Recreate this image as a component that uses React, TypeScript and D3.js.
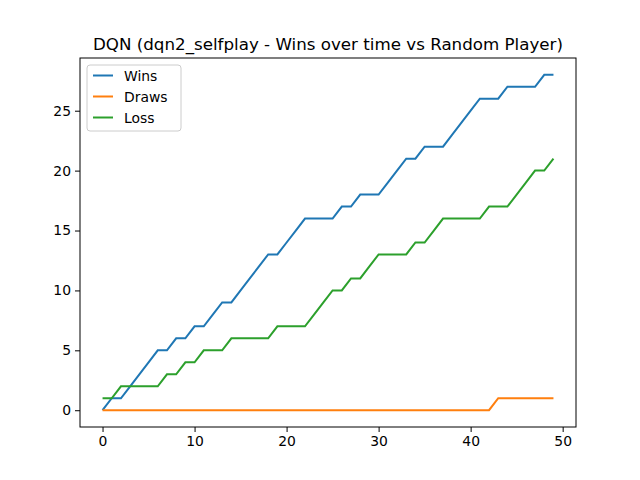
import * as d3 from "d3";
import React, { useEffect, useRef } from "react";

const wins = [0, 1, 1, 2, 3, 4, 5, 5, 6, 6, 7, 7, 8, 9, 9, 10, 11, 12, 13, 13, 14, 15, 16, 16, 16, 16, 17, 17, 18, 18, 18, 19, 20, 21, 21, 22, 22, 22, 23, 24, 25, 26, 26, 26, 27, 27, 27, 27, 28, 28];
const draws = [0, 0, 0, 0, 0, 0, 0, 0, 0, 0, 0, 0, 0, 0, 0, 0, 0, 0, 0, 0, 0, 0, 0, 0, 0, 0, 0, 0, 0, 0, 0, 0, 0, 0, 0, 0, 0, 0, 0, 0, 0, 0, 0, 1, 1, 1, 1, 1, 1, 1];
const loss = [1, 1, 2, 2, 2, 2, 2, 3, 3, 4, 4, 5, 5, 5, 6, 6, 6, 6, 6, 7, 7, 7, 7, 8, 9, 10, 10, 11, 11, 12, 13, 13, 13, 13, 14, 14, 15, 16, 16, 16, 16, 16, 17, 17, 17, 18, 19, 20, 20, 21];
const seriesNames = ["Wins", "Draws", "Loss"];
const colors = ["#1f77b4", "#ff7f0e", "#2ca02c"];
const xTicks = [0, 10, 20, 30, 40, 50];
const yTicks = [0, 5, 10, 15, 20, 25];

const App: React.FC = () => {
  const ref = useRef<SVGSVGElement>(null);

  useEffect(() => {
    if (!ref.current) return;
    const svg = d3.select(ref.current);
    svg.selectAll("*").remove();

    const left = 80, right = 576, top = 58, bottom = 427;
    const x = d3.scaleLinear().domain([-2.45, 51.45]).range([left, right]);
    const y = d3.scaleLinear().domain([-1.4, 29.4]).range([bottom, top]);
    const font = "DejaVu Sans, sans-serif";

    svg.append("rect").attr("width", 640).attr("height", 480).attr("fill", "white");

    const all = [wins, draws, loss];
    const line = d3.line<number>().x((_, i) => x(i)).y((d) => y(d));
    all.forEach((s, i) => {
      svg.append("path").datum(s).attr("d", line).attr("fill", "none")
        .attr("stroke", colors[i]).attr("stroke-width", 2);
    });

    // frame
    svg.append("rect").attr("x", left).attr("y", top).attr("width", right - left)
      .attr("height", bottom - top).attr("fill", "none").attr("stroke", "black").attr("stroke-width", 1);

    const xAxis = svg.append("g").attr("transform", `translate(0,${bottom})`)
      .call(d3.axisBottom(x).tickValues(xTicks).tickSize(5).tickPadding(4));
    const yAxis = svg.append("g").attr("transform", `translate(${left},0)`)
      .call(d3.axisLeft(y).tickValues(yTicks).tickSize(5).tickPadding(4));
    [xAxis, yAxis].forEach((g) => {
      g.select(".domain").remove();
      g.selectAll("text").attr("font-family", font).attr("font-size", 13.9).attr("fill", "black");
      g.selectAll("line").attr("stroke-width", 1);
    });

    svg.append("text").attr("x", (left + right) / 2).attr("y", 50).attr("text-anchor", "middle")
      .attr("font-family", font).attr("font-size", 16.7)
      .text("DQN (dqn2_selfplay - Wins over time vs Random Player)");

    // legend
    const lg = svg.append("g").attr("transform", `translate(87,65)`);
    lg.append("rect").attr("width", 94).attr("height", 66).attr("rx", 3)
      .attr("fill", "white").attr("fill-opacity", 0.8).attr("stroke", "#cccccc");
    seriesNames.forEach((n, i) => {
      const yy = 10.5 + i * 21;
      lg.append("line").attr("x1", 6).attr("x2", 26).attr("y1", yy).attr("y2", yy)
        .attr("stroke", colors[i]).attr("stroke-width", 2);
      lg.append("text").attr("x", 37).attr("y", yy + 5).attr("font-family", font)
        .attr("font-size", 13.9).text(n);
    });
  }, []);

  return <svg ref={ref} width={640} height={480} style={{ display: "block", margin: "-8px" }} />;
};

export default App;
